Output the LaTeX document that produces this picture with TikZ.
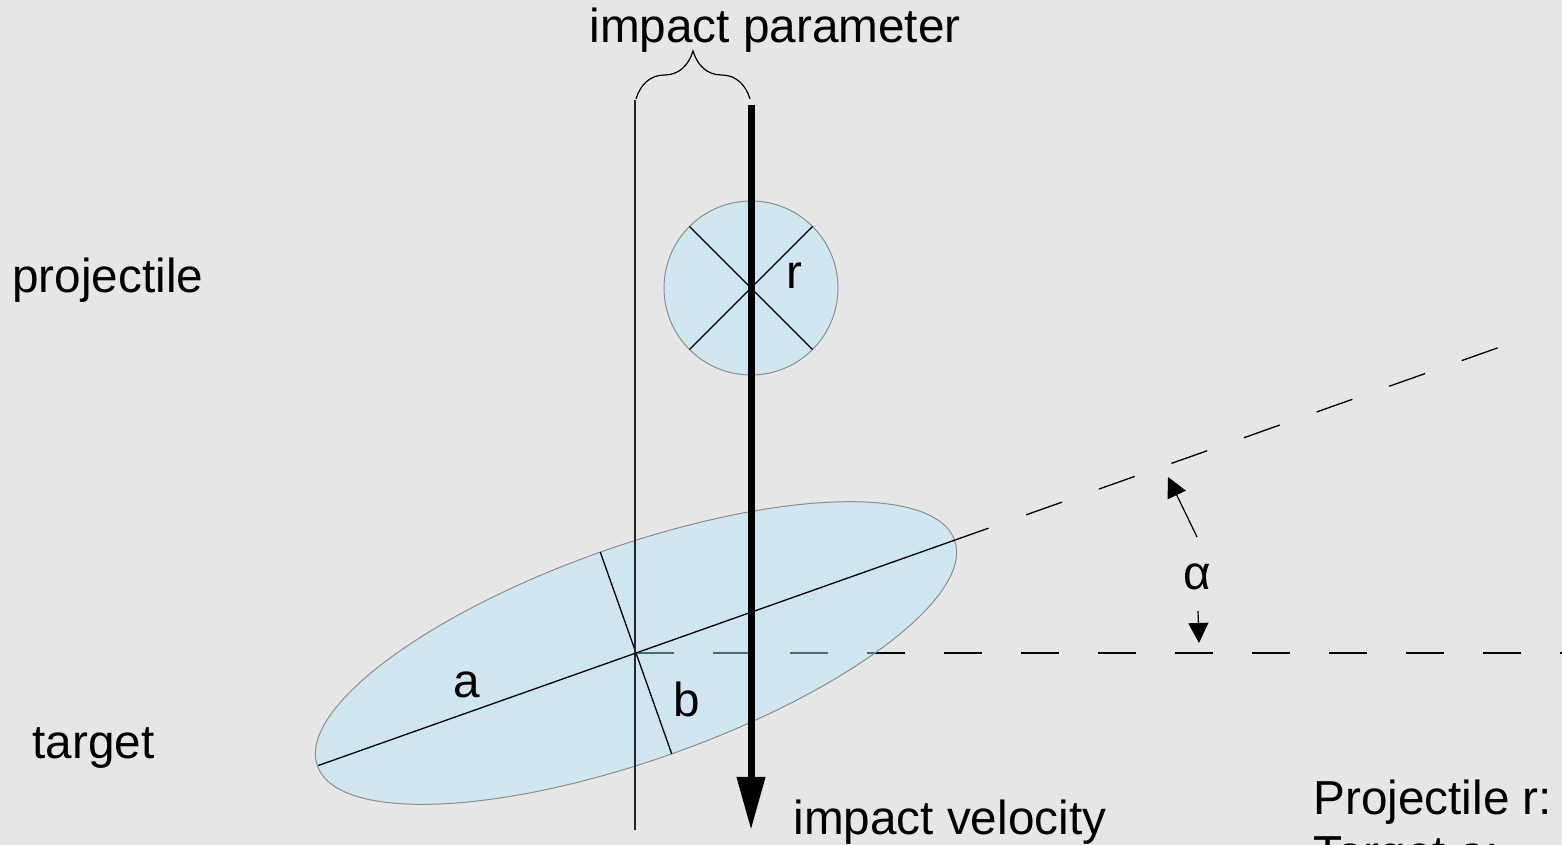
\documentclass[tikz,border=0pt]{standalone}
\usepackage{fontspec}
\setmainfont{Liberation Sans}
\usetikzlibrary{
    arrows.meta,                      % Triangle tips
    calc,                             % ($(c)+(19.5:336)$)
    decorations.pathreplacing         % brace over the impact parameter
}
\definecolor{bg_grey}{RGB}{230,230,230}
\definecolor{body_blue}{RGB}{179,230,255}
\definecolor{body_edge}{RGB}{140,140,140}
\tikzset{
    lbl/.style={
        font=\fontsize{23.85}{27.5}\selectfont, inner sep=0pt
    },
    body/.style={
        draw=body_edge, line width=0.5pt,
        fill=body_blue, fill opacity=0.45
    },
    axis/.style={
        line width=0.65pt
    },
    guide/.style={
        line width=0.65pt, dash pattern=on 19pt off 19.5pt
    },
    velocity/.style={
        line width=3.5pt, -{Triangle[length=26.5pt,width=13.5pt]}
    },
    anglearrow/.style={
        line width=0.6pt, -{Triangle[length=10pt,width=10pt]}
    }
}

\begin{document}
\begin{tikzpicture}[x=0.5pt, y=0.5pt]
    \useasboundingbox (0,0) rectangle (1562,845);
    \clip (0,0) rectangle (1562,845);
    \fill[bg_grey] (0,0) rectangle (1562,845);

    \coordinate (c) at (636,192);       % centre of the target
    \coordinate (p) at (751,557);       % centre of the projectile
    \coordinate (ipTop) at (635,745);
    \coordinate (ipBot) at (635,15);
    \coordinate (velTop) at (751,740);
    \coordinate (velBot) at (751,15);
    \coordinate (braceL) at (636,746);
    \coordinate (braceR) at (750,746);
    \coordinate (horizEnd) at (1570,192);
    \coordinate (aL) at ($(c)+(199.5:337)$);
    \coordinate (aR) at ($(c)+(19.5:374)$);
    \coordinate (bT) at ($(c)+(109.5:107)$);
    \coordinate (bB) at ($(c)+(-70.5:107)$);
    \coordinate (tiltFrom) at ($(c)+(19.5:414)$);
    \coordinate (tiltTo) at ($(c)+(19.5:914)$);

    % horizontal reference
    \draw[guide] (c) -- (horizEnd);

    % target and projectile
    \draw[body, rotate around={19.5:(c)}] (c) ellipse [x radius=338, y radius=107];
    \draw[body] (p) circle [radius=87];

    \draw[axis] (aL) -- (aR);
    \draw[axis] (bT) -- (bB);
    \draw[guide] (tiltFrom) -- (tiltTo);
    \draw[axis] ($(p)+(45:87)$) -- ($(p)+(225:87)$);
    \draw[axis] ($(p)+(135:87)$) -- ($(p)+(-45:87)$);

    \draw[axis, black!85] (ipTop) -- (ipBot);
    \draw[velocity] (velTop) -- (velBot);
    \draw[line width=0.6pt, decorate, decoration={brace, amplitude=24pt}]
        (braceL) -- (braceR);

    % labels
    \node[lbl, anchor=base] (ipLbl) at (775,802) {impact parameter};
    \node[lbl, anchor=base west] (projLbl) at (12,552) {projectile};
    \node[lbl, anchor=base west] (tgtLbl) at (32,86) {target};
    \node[lbl, anchor=base] (rLbl) at (794,556) {r};
    \node[lbl, anchor=base] (aLbl) at (467,147) {a};
    \node[lbl, anchor=base] (bLbl) at (687,128) {b};
    \node[lbl, anchor=base] (alpha) at (1197,255) {α};
    \node[lbl, anchor=base west] (velLbl) at (793,10) {impact velocity};
    \node[lbl, anchor=base west] (legendA) at (1313,30) {Projectile r:};
    \node[lbl, anchor=base west] (legendB) at ($(legendA.base west)+(0,-55)$) {Target a:};

    % angle between the axes
    \coordinate (alphaUpFrom) at (1197,308);
    \coordinate (alphaUpTo) at (1168,368);
    \coordinate (alphaDnFrom) at (1198,234);
    \coordinate (alphaDnTo) at (1199,202);
    \draw[anglearrow] (alphaUpFrom) -- (alphaUpTo);
    \draw[anglearrow] (alphaDnFrom) -- (alphaDnTo);
\end{tikzpicture}
\end{document}
